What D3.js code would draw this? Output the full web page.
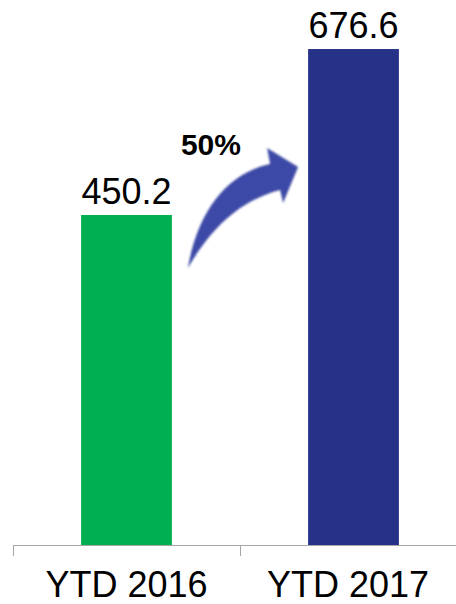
<!DOCTYPE html>
<html>
<head>
<meta charset="utf-8">
<script src="https://cdn.jsdelivr.net/npm/d3@7"></script>
<style>
  html, body { margin: 0; padding: 0; background: #fff; }
  svg { display: block; font-family: Arial, "Liberation Sans", sans-serif; }
</style>
</head>
<body>
<script>
// Year-to-date totals
const categories = ["YTD 2016", "YTD 2017"];
const values = [450.2, 676.6];
const barColors = ["#00B050", "#253287"];
const growthLabel = "50%";

const W = 456, H = 604;
const svg = d3.select("body").append("svg").attr("width", W).attr("height", H);

// Category bands run a little past the right edge of the view
const x = d3.scaleBand().domain(categories).range([13, 467])
  .paddingInner(0.6).paddingOuter(0.3);
const baseY = 545;
const y = d3.scaleLinear().domain([0, 743.5]).range([baseY, 0]);

// Bars
svg.selectAll("rect.bar").data(values).join("rect")
  .attr("class", "bar")
  .attr("x", (d, i) => x(categories[i]))
  .attr("width", x.bandwidth())
  .attr("y", d => y(d))
  .attr("height", d => baseY - y(d))
  .attr("fill", (d, i) => barColors[i]);

// Value labels above bars
svg.selectAll("text.val").data(values).join("text")
  .attr("class", "val")
  .attr("x", (d, i) => x(categories[i]) + x.bandwidth() / 2)
  .attr("y", d => y(d) - 11)
  .attr("text-anchor", "middle")
  .attr("font-size", 36)
  .attr("fill", "#000")
  .text(d => d.toFixed(1));

// Category axis: baseline with ticks at band boundaries
const [r0, r1] = x.range();
svg.append("line")
  .attr("x1", r0).attr("x2", r1).attr("y1", baseY + 0.5).attr("y2", baseY + 0.5)
  .attr("stroke", "#a6a6a6").attr("stroke-width", 1);
const bounds = d3.range(categories.length + 1).map(i => r0 + i * x.step());
svg.selectAll("line.tick").data(bounds).join("line")
  .attr("class", "tick")
  .attr("x1", d => Math.round(d) + 0.5).attr("x2", d => Math.round(d) + 0.5)
  .attr("y1", baseY).attr("y2", baseY + 11)
  .attr("stroke", "#a6a6a6").attr("stroke-width", 1);

// Category labels, centred on the visible part of each band
svg.selectAll("text.cat").data(categories).join("text")
  .attr("class", "cat")
  .attr("x", (d, i) => {
    const a = r0 + i * x.step();
    const b = Math.min(W, a + x.step());
    return (a + b) / 2;
  })
  .attr("y", 597)
  .attr("text-anchor", "middle")
  .attr("font-size", 36)
  .attr("fill", "#000")
  .text(d => d);

// Growth arrow from the first bar towards the second
const defs = svg.append("defs");
defs.append("filter").attr("id", "soft")
  .attr("x", "-10%").attr("y", "-10%").attr("width", "120%").attr("height", "120%")
  .append("feGaussianBlur").attr("stdDeviation", 1.1);

const x0 = x(categories[0]) + x.bandwidth();
const x1 = x(categories[1]);
const yTop = y(values[0]);
const tail = [x0 + 16, yTop + 53];
const tip = [x1 - 10, yTop - 48];
const arrowPath = d3.path();
arrowPath.moveTo(tail[0], tail[1]);
arrowPath.bezierCurveTo(tail[0] + 10, yTop - 5, tail[0] + 40, yTop - 42, x1 - 38, yTop - 51);
arrowPath.lineTo(x1 - 41, yTop - 67);
arrowPath.lineTo(tip[0], tip[1]);
arrowPath.lineTo(x1 - 25, yTop - 12);
arrowPath.lineTo(x1 - 28, yTop - 25);
arrowPath.bezierCurveTo(x1 - 70, yTop - 14, tail[0] + 22, yTop + 15, tail[0], tail[1]);
arrowPath.closePath();
svg.append("path")
  .attr("d", arrowPath.toString())
  .attr("fill", "#3D49A6")
  .attr("filter", "url(#soft)");

svg.append("text")
  .attr("x", x0 + 9)
  .attr("y", yTop - 60)
  .attr("font-size", 30)
  .attr("font-weight", "bold")
  .attr("fill", "#000")
  .text(growthLabel);
</script>
</body>
</html>
